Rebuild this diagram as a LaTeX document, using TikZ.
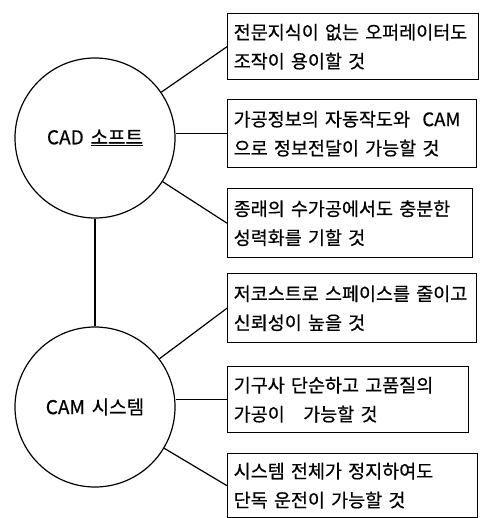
\documentclass[tikz,border=0pt]{standalone}
\usepackage{fontspec}
\setmainfont{Noto Sans CJK KR}[WordSpace=1.6,FakeBold=0.6,BoldFont={Noto Sans CJK KR}]
\begin{document}
\begin{tikzpicture}[x=1pt,y=-1pt,
  box/.style={draw, line width=1.4pt, anchor=north west, inner xsep=6pt, inner ysep=0pt,
    align=left, font=\fontsize{18.5}{29}\selectfont\bfseries},
  hub/.style={draw, circle, line width=1.2pt, minimum size=160pt, inner sep=0pt,
    font=\fontsize{19}{22}\selectfont},
  conn/.style={line width=1.2pt}]
\useasboundingbox (0,0) rectangle (481,518);
\node[hub] (c1) at (95,138) {CAD \underline{소프트}};
\node[hub] (c2) at (95,407) {CAM 시스템};
\node[box, minimum width=251pt, minimum height=66pt, text width=239pt] (b1) at (227,13)
  {\mbox{전문지식이 없는 오퍼레이터도}\\\mbox{조작이 용이할 것}};
\node[box, minimum width=249pt, minimum height=68pt, text width=237pt] (b2) at (227,99)
  {\mbox{가공정보의 자동작도와 \ CAM}\\\mbox{으로 정보전달이 가능할 것}};
\node[box, minimum width=245pt, minimum height=69pt, text width=233pt] (b3) at (227,188)
  {\mbox{종래의 수가공에서도 충분한}\\\mbox{성력화를 기할 것}};
\node[box, minimum width=249pt, minimum height=69pt, text width=237pt] (b4) at (227,273)
  {\mbox{저코스트로 스페이스를 줄이고}\\\mbox{신뢰성이 높을 것}};
\node[box, minimum width=241pt, minimum height=66pt, text width=229pt] (b5) at (227,366)
  {\mbox{기구사 단순하고 고품질의}\\\mbox{가공이 \ \ 가능할 것}};
\node[box, minimum width=250pt, minimum height=64pt, text width=238pt] (b6) at (227,453)
  {\mbox{시스템 전체가 정지하여도}\\\mbox{단독 운전이 가능할 것}};
\draw[conn] (c1) -- (b1.west);
\draw[conn] (b2.west) -- (c1.east |- b2.west);
\draw[conn] (c1) -- (b3.west);
\draw[conn] (c2) -- (b4.west);
\draw[conn] (b5.west) -- (c2.east |- b5.west);
\draw[conn] (c2) -- (b6.west);
\draw[conn] (c1.south) -- (c2.north);
\end{tikzpicture}
\end{document}
